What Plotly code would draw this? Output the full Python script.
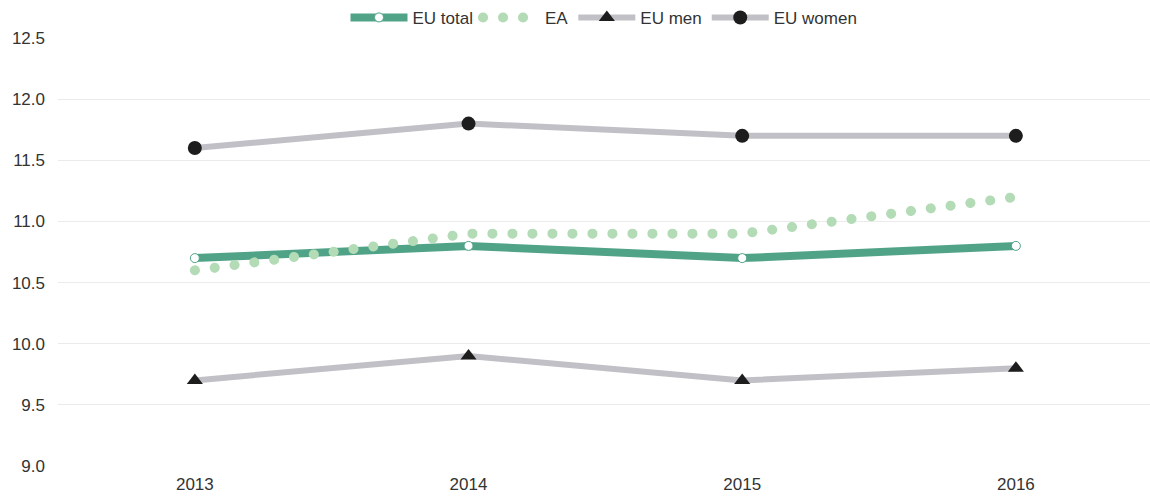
import plotly.graph_objects as go

years = ["2013", "2014", "2015", "2016"]
eu_total = [10.7, 10.8, 10.7, 10.8]
ea = [10.6, 10.9, 10.9, 11.2]
eu_men = [9.7, 9.9, 9.7, 9.8]
eu_women = [11.6, 11.8, 11.7, 11.7]
y_ticks = [9.0, 9.5, 10.0, 10.5, 11.0, 11.5, 12.0, 12.5]

GREEN = "#50a387"
LIGHT = "#b2dbb6"
GRAY = "#c1c0c6"
DARK = "#1d1d1d"
FONT = "Liberation Sans, Arial, sans-serif"

fig = go.Figure()
fig.add_trace(go.Scatter(x=years, y=eu_total, name="EU total", mode="lines+markers",
                         line=dict(color=GREEN, width=8),
                         marker=dict(symbol="circle", size=9, color="white",
                                     line=dict(color=GREEN, width=1))))
fig.add_trace(go.Scatter(x=years, y=ea, name="EA", mode="lines",
                         line=dict(color=LIGHT, width=10, dash="0.1px,19.9px")))
fig.add_trace(go.Scatter(x=years, y=eu_men, name="EU men", mode="lines+markers",
                         line=dict(color=GRAY, width=6),
                         marker=dict(symbol="triangle-up", size=14, color=DARK)))
fig.add_trace(go.Scatter(x=years, y=eu_women, name="EU women", mode="lines+markers",
                         line=dict(color=GRAY, width=6),
                         marker=dict(symbol="circle", size=14, color=DARK)))

fig.update_layout(
    width=1150, height=497,
    margin=dict(l=58, r=0, t=38, b=31, autoexpand=False),
    paper_bgcolor="white", plot_bgcolor="white",
    font=dict(family=FONT, size=17, color="#333333"),
    showlegend=True,
    legend=dict(orientation="h", x=0.5, xanchor="center", y=1.047, yanchor="middle",
                font=dict(family=FONT, size=17, color="#333333"), itemwidth=57,
                traceorder="normal", bgcolor="rgba(0,0,0,0)"),
    xaxis=dict(type="category", range=[-0.5, 3.49], showgrid=False, showline=False,
               ticks="", ticklabelstandoff=6, tickfont=dict(size=17, color="#333333")),
    yaxis=dict(range=[9.0, 12.5], tickvals=y_ticks, ticktext=[f"{v:.1f}" for v in y_ticks],
               showgrid=True, gridcolor="#ebebeb", gridwidth=1, zeroline=False,
               showline=False, ticks="", ticklen=0, ticklabelstandoff=12,
               tickfont=dict(size=17, color="#333333")),
)

post = """
document.body.style.margin = '0';
document.body.style.padding = '0';
var gd = document.getElementById('{plot_id}');
function roundDots(){
  gd.querySelectorAll('path').forEach(function(p){
    var d = p.style.strokeDasharray;
    if (d && d !== 'none') { p.style.strokeLinecap = 'round'; }
  });
}
roundDots();
setTimeout(roundDots, 50);
if (gd.on) { gd.on('plotly_afterplot', roundDots); }
"""

fig.write_html("out.html", post_script=post, config={"displayModeBar": False})
